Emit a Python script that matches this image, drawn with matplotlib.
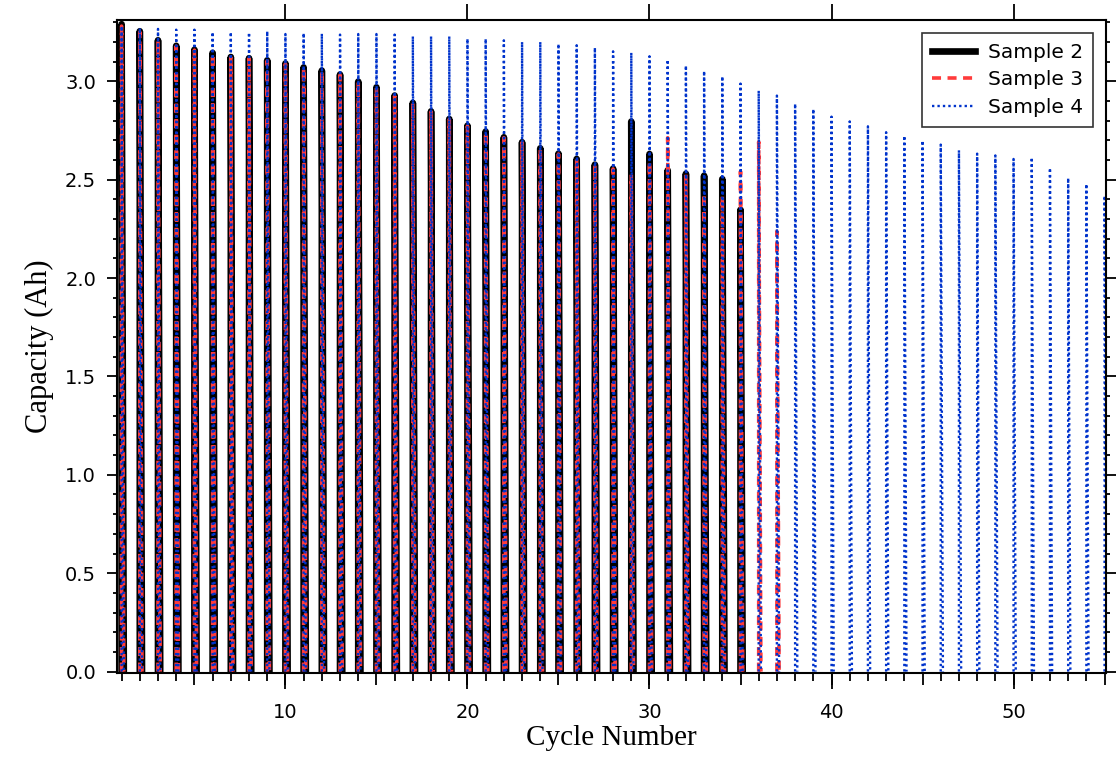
import matplotlib
matplotlib.use("Agg")
import matplotlib.pyplot as plt
import numpy as np
from matplotlib.ticker import MultipleLocator, FuncFormatter

# peak capacity (Ah) for each cycle
cycles_2 = list(range(1, 36))
peak_2 = [3.29, 3.254, 3.208, 3.18, 3.16, 3.144, 3.123, 3.117, 3.106, 3.09,
          3.07, 3.054, 3.034, 2.998, 2.969, 2.927, 2.89, 2.847, 2.808, 2.774,
          2.744, 2.715, 2.69, 2.659, 2.632, 2.605, 2.576, 2.556, 2.795, 2.63,
          2.547, 2.53, 2.52, 2.503, 2.347]

cycles_3 = list(range(1, 38))
peak_3 = [3.28, 3.25, 3.205, 3.178, 3.158, 3.14, 3.12, 3.115, 3.104, 3.088,
          3.068, 3.052, 3.032, 2.996, 2.967, 2.925, 2.888, 2.845, 2.806, 2.772,
          2.742, 2.713, 2.688, 2.657, 2.63, 2.603, 2.574, 2.554, 2.525, 2.593,
          2.713, 2.525, 2.43, 2.415, 2.542, 2.692, 2.237]

cycles_4 = list(range(1, 56))
peak_4 = [3.28, 3.27, 3.266, 3.262, 3.262, 3.25, 3.25, 3.248, 3.254, 3.24,
          3.245, 3.242, 3.237, 3.24, 3.24, 3.237, 3.228, 3.228, 3.228, 3.216,
          3.216, 3.208, 3.2, 3.2, 3.19, 3.183, 3.171, 3.152, 3.145, 3.127,
          3.11, 3.08, 3.052, 3.025, 2.988, 2.952, 2.927, 2.886, 2.859, 2.82,
          2.796, 2.771, 2.741, 2.723, 2.698, 2.678, 2.649, 2.632, 2.623, 2.605,
          2.613, 2.559, 2.508, 2.478, 2.418]


def sawtooth(cycles, peaks, w=0.12):
    # each cycle: charge up at cycle n, fall back to zero just after
    xs, ys = [], []
    for n, p in zip(cycles, peaks):
        xs += [n, n, n + w, np.nan]
        ys += [0.0, p, 0.0, np.nan]
    return xs, ys


plt.rcParams['font.family'] = 'DejaVu Sans'
fig = plt.figure(figsize=(11.19, 7.63), dpi=100)
ax = fig.add_axes([0.1046, 0.118, 0.8838, 0.856])

x2, y2 = sawtooth(cycles_2, peak_2)
x3, y3 = sawtooth(cycles_3, peak_3)
x4, y4 = sawtooth(cycles_4, peak_4)
ax.plot(x2, y2, color='black', lw=4.8, label='Sample 2')
ax.plot(x3, y3, color='#ff3b3b', lw=2.6, ls=(0, (2.5, 1.8)), label='Sample 3')
ax.plot(x4, y4, color='#0033cc', lw=1.7, ls=(0, (1, 1.3)), label='Sample 4')

ax.set_xlim(0.75, 55.08)
ax.set_ylim(-0.007, 3.312)

for s in ax.spines.values():
    s.set_linewidth(1.5)

ax.xaxis.set_major_locator(MultipleLocator(5))
ax.xaxis.set_minor_locator(MultipleLocator(1))
ax.xaxis.set_major_formatter(FuncFormatter(lambda v, p: '%d' % v if v % 10 == 0 else ''))
ax.yaxis.set_major_locator(MultipleLocator(0.5))
ax.yaxis.set_minor_locator(MultipleLocator(0.1))
ax.yaxis.set_major_formatter(FuncFormatter(lambda v, p: '%.1f' % v))

ax.tick_params(axis='x', which='major', direction='out', length=8.5, width=1.3,
               top=True, bottom=True, labelsize=14, pad=13)
ax.tick_params(axis='x', which='minor', direction='out', length=5.5, width=1.3,
               top=True, bottom=True)
ax.tick_params(axis='y', which='major', direction='out', length=7, width=1.3,
               left=True, right=True, labelsize=14, pad=8)
ax.tick_params(axis='y', which='minor', direction='out', length=3, width=1.3,
               left=True, right=True)

# longer ticks at every 10 cycles
axt = ax.twiny()
axt.set_xlim(ax.get_xlim())
axt.set_xticks(range(10, 51, 10))
axt.xaxis.set_minor_locator(MultipleLocator(100))
axt.tick_params(axis='x', which='major', direction='out', length=11.5, width=1.3,
                top=True, bottom=True, labeltop=False, labelbottom=False)
for s in axt.spines.values():
    s.set_visible(False)

ax.set_xlabel('Cycle Number', family='Liberation Serif', fontsize=21, labelpad=2)
ax.set_ylabel('Capacity (Ah)', family='Liberation Serif', fontsize=22, labelpad=8)

leg = ax.legend(loc='upper right', fontsize=14.5, frameon=True, fancybox=False,
                handlelength=2.1, borderaxespad=0.65, labelspacing=0.42,
                handletextpad=0.65, borderpad=0.5)
leg.get_frame().set_edgecolor('black')
leg.get_frame().set_linewidth(1.2)

fig.savefig('out.png', dpi=100)
